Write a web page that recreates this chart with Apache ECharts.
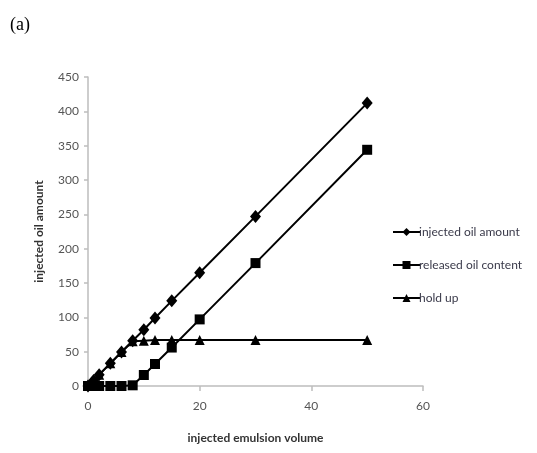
<!DOCTYPE html>
<html><head><meta charset="utf-8">
<script src="https://cdn.jsdelivr.net/npm/echarts@6/dist/echarts.min.js"></script>
<style>html,body{margin:0;padding:0;background:#fff}#c{width:537px;height:453px}</style>
</head><body><div id="c"></div>
<script>
var volume = [0, 1, 2, 4, 6, 8, 10, 12, 15, 20, 30, 50];
var injectedOil = [0, 8, 16.5, 33, 49.5, 66, 82, 99, 124, 165, 247, 412];
var releasedOil = [0, 0, 0, 0, 0, 1, 16, 32, 56, 97, 179, 344];
var holdUp = [0, 8, 16.5, 33, 49.5, 65, 66, 67, 67, 67, 67, 67];
var seriesNames = ['injected oil amount', 'released oil content', 'hold up'];
var xTicks = [0, 20, 40, 60];
var yTicks = [0, 50, 100, 150, 200, 250, 300, 350, 400, 450];

function pairs(ys){ return volume.map(function(x,i){ return [x, ys[i]]; }); }
var font = 'Lato, "Liberation Sans", sans-serif';
var chart = echarts.init(document.getElementById('c'), null, {renderer:'canvas'});
var common = { type:'line', color:'#000', lineStyle:{color:'#000', width:2}, itemStyle:{color:'#000'}, showAllSymbol:true, animation:false };
chart.setOption({
  backgroundColor:'#fff',
  animation:false,
  graphic:[{type:'text', left:10, top:16, style:{text:'(a)', font:'18px "Liberation Serif", serif', fill:'#000'}}],
  grid:{left:88, right:114, top:77, bottom:67},
  legend:{
    orient:'vertical', left:387, top:221, itemWidth:27, itemHeight:10, itemGap:21,
    textStyle:{color:'#3a3a4a', fontFamily:font, fontSize:12, padding:[0,0,0,-6]},
    data:seriesNames
  },
  xAxis:{
    type:'value', min:xTicks[0], max:xTicks[xTicks.length-1], interval:20,
    name:'injected emulsion volume', nameLocation:'middle', nameGap:46,
    nameTextStyle:{color:'#333', fontFamily:font, fontSize:12, fontWeight:'bold'},
    axisLine:{show:true, lineStyle:{color:'#bdbdbd', width:1.5}},
    axisTick:{show:true, length:5, lineStyle:{color:'#bdbdbd', width:1.5}},
    axisLabel:{color:'#555', fontFamily:font, fontSize:12, margin:14},
    splitLine:{show:false}
  },
  yAxis:{
    type:'value', min:yTicks[0], max:yTicks[yTicks.length-1], interval:50,
    name:'injected oil amount', nameLocation:'middle', nameGap:43,
    nameTextStyle:{color:'#333', fontFamily:font, fontSize:12, fontWeight:'bold'},
    axisLine:{show:true, lineStyle:{color:'#bdbdbd', width:1.5}},
    axisTick:{show:true, length:4, lineStyle:{color:'#bdbdbd', width:1.5}},
    axisLabel:{color:'#555', fontFamily:font, fontSize:12, margin:9},
    splitLine:{show:false}
  },
  series:[
    Object.assign({}, common, {name:seriesNames[0], data:pairs(injectedOil), symbol:'diamond', symbolSize:[11,13], z:3}),
    Object.assign({}, common, {name:seriesNames[1], data:pairs(releasedOil), symbol:'rect', symbolSize:10, z:2}),
    Object.assign({}, common, {name:seriesNames[2], data:pairs(holdUp), symbol:'triangle', symbolSize:10, z:1})
  ]
});
</script></body></html>
